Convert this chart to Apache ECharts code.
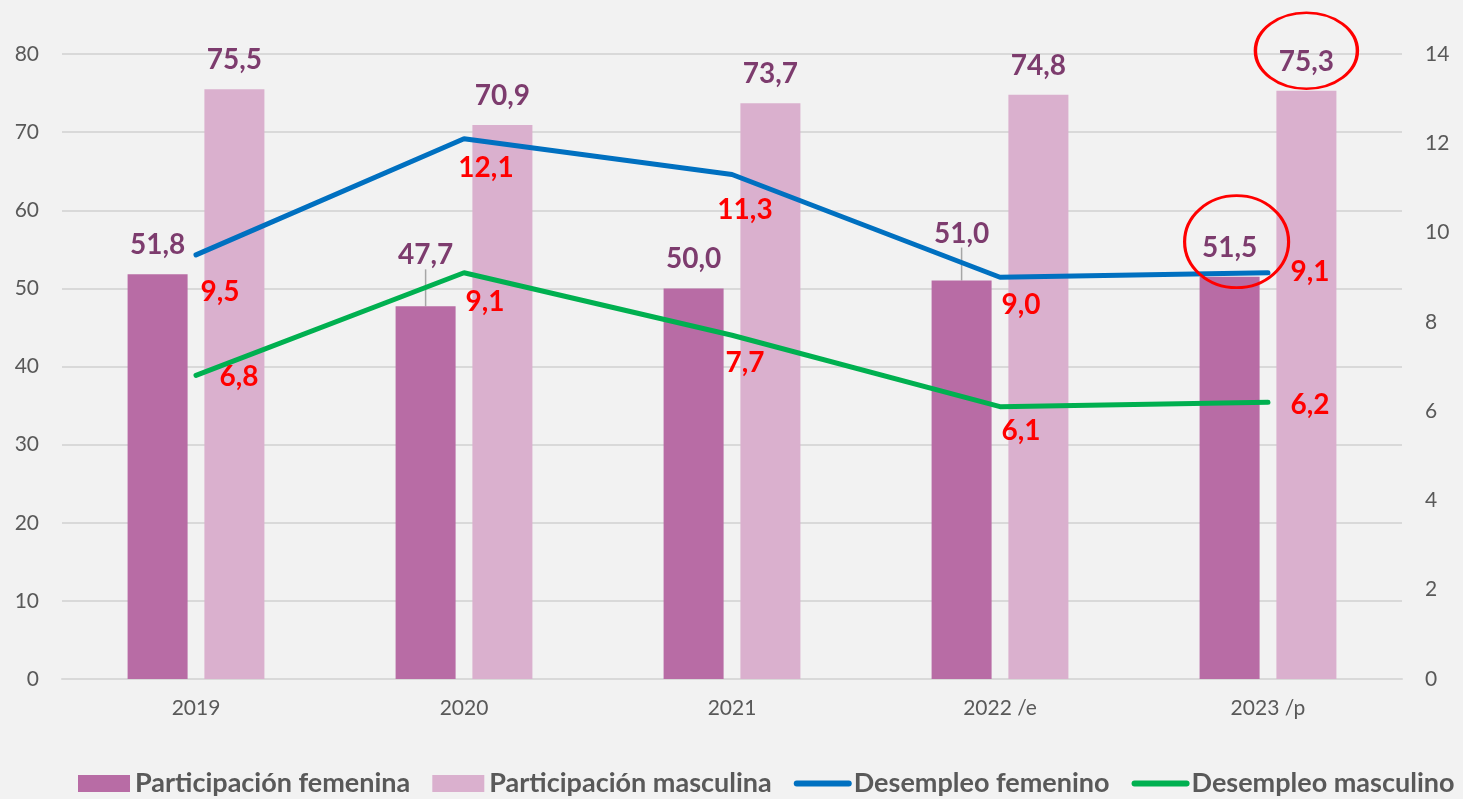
<!DOCTYPE html>
<html>
<head>
<meta charset="utf-8">
<script src="https://cdn.jsdelivr.net/npm/echarts@6/dist/echarts.min.js"></script>
<style>
html,body{margin:0;padding:0;background:#f2f2f2;}
#chart{width:1463px;height:799px;}
</style>
</head>
<body>
<div id="chart"></div>
<script>
const categories = ['2019', '2020', '2021', '2022 /e', '2023 /p'];
const partFemenina = [51.8, 47.7, 50.0, 51.0, 51.5];
const partMasculina = [75.5, 70.9, 73.7, 74.8, 75.3];
const desFemenino = [9.5, 12.1, 11.3, 9.0, 9.1];
const desMasculino = [6.8, 9.1, 7.7, 6.1, 6.2];
const seriesNames = ['Participación femenina', 'Participación masculina', 'Desempleo femenino', 'Desempleo masculino'];

const FONT = 'Lato';
const fmt = v => (typeof v === 'object' ? v.value : v).toFixed(1).replace('.', ',');

// label offsets (styling) for line series labels, relative to point
const blueOff = [[24, 37], [22, 29], [13, 35], [21, 28], [42, -1]];
const greenOff = [[43, 2], [21, 29], [13, 28], [21, 24], [42, 3]];
const femLabelShift = [0, -22, 0, -18, 0];

function lineData(vals, offs) {
  return vals.map((v, i) => ({
    value: v,
    label: { position: 'inside', offset: offs[i] }
  }));
}
function femData(vals) {
  return vals.map((v, i) => ({
    value: v,
    labelLine: { show: femLabelShift[i] !== 0 }
  }));
}

const chart = echarts.init(document.getElementById('chart'));
chart.setOption({
  backgroundColor: '#f2f2f2',
  animation: false,
  textStyle: { fontFamily: FONT },
  grid: { left: 62, right: 61, top: 54, bottom: 120, containLabel: false },
  legend: {
    left: 78,
    top: 770,
    padding: 0,
    itemWidth: 52,
    itemHeight: 17,
    itemGap: 22,
    textStyle: { fontFamily: FONT, fontSize: 27, fontWeight: 'bold', color: '#595959' },
    data: [
      { name: seriesNames[0], icon: 'rect' },
      { name: seriesNames[1], icon: 'rect' },
      { name: seriesNames[2], itemStyle: { opacity: 0 }, lineStyle: { width: 6, cap: 'round' } },
      { name: seriesNames[3], itemStyle: { opacity: 0 }, lineStyle: { width: 6, cap: 'round' } }
    ]
  },
  xAxis: {
    type: 'category',
    data: categories,
    axisLine: { lineStyle: { color: '#d9d9d9', width: 2 } },
    axisTick: { show: false },
    axisLabel: { color: '#595959', fontSize: 21, fontFamily: FONT, margin: 19 }
  },
  yAxis: [
    {
      type: 'value', min: 0, max: 80, interval: 10,
      axisLine: { show: false }, axisTick: { show: false },
      axisLabel: { color: '#595959', fontSize: 21, fontFamily: FONT, margin: 23 },
      splitLine: { lineStyle: { color: '#d9d9d9', width: 2 } }
    },
    {
      type: 'value', min: 0, max: 14, interval: 2,
      axisLine: { show: false }, axisTick: { show: false },
      axisLabel: { color: '#595959', fontSize: 21, fontFamily: FONT, margin: 23 },
      splitLine: { show: false }
    }
  ],
  series: [
    {
      name: seriesNames[0], type: 'bar', yAxisIndex: 0,
      data: femData(partFemenina),
      barWidth: 60, barGap: '28%',
      itemStyle: { color: '#b86ca5' },
      label: { show: true, position: 'top', distance: 15, formatter: p => fmt(p.value),
               color: '#7d3c6e', fontSize: 28, fontWeight: 'bold', fontFamily: FONT },
      labelLayout: p => ({ dy: femLabelShift[p.dataIndex] }),
      labelLine: { show: false, lineStyle: { color: '#a6a6a6', width: 1.5 } },
      markPoint: {
        symbol: 'circle', symbolSize: [104, 92], symbolOffset: [7, -35],
        itemStyle: { color: 'rgba(0,0,0,0)', borderColor: '#ff0000', borderWidth: 3 },
        label: { show: false },
        data: [{ coord: [4, partFemenina[4]] }]
      },
      z: 2
    },
    {
      name: seriesNames[1], type: 'bar', yAxisIndex: 0,
      data: partMasculina,
      barWidth: 60,
      itemStyle: { color: '#dab0ce' },
      label: { show: true, position: 'top', distance: 15, formatter: p => fmt(p.value),
               color: '#7d3c6e', fontSize: 28, fontWeight: 'bold', fontFamily: FONT },
      markPoint: {
        symbol: 'circle', symbolSize: [102, 76], symbolOffset: [0, -40],
        itemStyle: { color: 'rgba(0,0,0,0)', borderColor: '#ff0000', borderWidth: 3 },
        label: { show: false },
        data: [{ coord: [4, partMasculina[4]] }]
      },
      z: 2
    },
    {
      name: seriesNames[2], type: 'line', yAxisIndex: 1,
      data: lineData(desFemenino, blueOff),
      symbol: 'circle', symbolSize: 1, showSymbol: true,
      itemStyle: { color: '#0070c0' },
      lineStyle: { color: '#0070c0', width: 5, cap: 'round' },
      label: { show: true, formatter: p => fmt(p.value), color: '#ff0000',
               fontSize: 28, fontWeight: 'bold', fontFamily: FONT },
      z: 3
    },
    {
      name: seriesNames[3], type: 'line', yAxisIndex: 1,
      data: lineData(desMasculino, greenOff),
      symbol: 'circle', symbolSize: 1, showSymbol: true,
      itemStyle: { color: '#00b050' },
      lineStyle: { color: '#00b050', width: 5, cap: 'round' },
      label: { show: true, formatter: p => fmt(p.value), color: '#ff0000',
               fontSize: 28, fontWeight: 'bold', fontFamily: FONT },
      z: 3
    }
  ]
});
</script>
</body>
</html>
